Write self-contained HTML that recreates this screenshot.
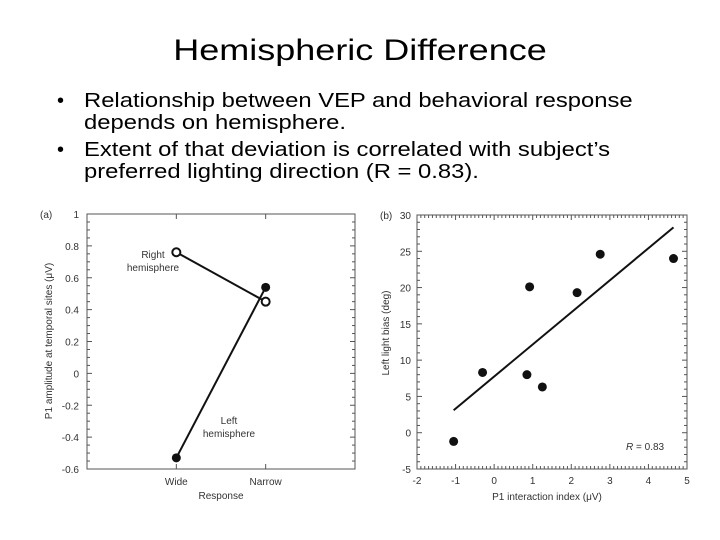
<!DOCTYPE html>
<html><head><meta charset="utf-8"><style>
body{margin:0;background:#fff;}
#page{position:relative;width:720px;height:540px;background:#fff;font-family:"Liberation Sans",Arial,sans-serif;overflow:hidden;}
.title{position:absolute;left:360px;top:0;font-size:30px;line-height:30px;color:#000;white-space:nowrap;transform:translateX(-50%) scaleX(1.2);transform-origin:50% 0;}
.ln{position:absolute;left:84px;font-size:20px;line-height:20px;color:#000;white-space:nowrap;transform:scaleX(1.19);transform-origin:0 0;}
.dot{position:absolute;left:57px;font-size:20px;line-height:20px;}
svg text{font-family:"Liberation Sans",Arial,sans-serif;fill:#333;}
</style></head><body>
<div id="page">
<div class="title" style="top:36px">Hemispheric Difference</div>
<div class="dot" style="top:91px">•</div>
<div class="ln" style="top:91px">Relationship between VEP and behavioral response</div>
<div class="ln" style="top:113px">depends on hemisphere.</div>
<div class="dot" style="top:140px">•</div>
<div class="ln" style="top:140px">Extent of that deviation is correlated with subject’s</div>
<div class="ln" style="top:162px">preferred lighting direction (R = 0.83).</div>
<svg id="chart" width="720" height="540" style="position:absolute;left:0;top:0"></svg>
</div>
<script>
// Panel a data
const aCategories = ["Wide","Narrow"];
const aRight = [0.76, 0.45];
const aLeft = [-0.53, 0.54];
const aYTicks = [1,0.8,0.6,0.4,0.2,0,-0.2,-0.4,-0.6];
// Panel b data
const bX = [-1.05,-0.3,0.85,0.92,1.25,2.15,2.75,4.65];
const bY = [-1.2,8.3,8.0,20.1,6.3,19.3,24.6,24.0];
const bFitX = [-1.05,4.65];
const bFitY = [3.1,28.3];
const bXTicks = [-2,-1,0,1,2,3,4,5];
const bYTicks = [-5,0,5,10,15,20,25,30];

const svg=document.getElementById('chart');
const NS='http://www.w3.org/2000/svg';
function mk(tag,attrs,parent){const e=document.createElementNS(NS,tag);for(const k in attrs)e.setAttribute(k,attrs[k]);(parent||svg).appendChild(e);return e;}

// Panel a scales
const aL=87,aR=355,aT=214,aB=469;
const ay=v=>aB-(v+0.6)/1.6*(aB-aT);
const ax=i=>aL+(i+1)/3*(aR-aL);
let g=mk('g',{});


let r=mk('rect',{x:aL,y:aT,width:aR-aL,height:aB-aT,fill:'none',stroke:'#555','stroke-width':1},g);


for(let v=-0.6;v<=1.0001;v+=0.05){const y=ay(v);const maj=Math.abs(Math.round(v*10)-v*10)<1e-6&&Math.round(v*10)%2===0;const len=maj?5:3;
mk('line',{x1:aL,x2:aL+len,y1:y,y2:y,stroke:'#555'},g);mk('line',{x1:aR,x2:aR-len,y1:y,y2:y,stroke:'#555'},g);}
aYTicks.forEach(v=>{const t=mk('text',{x:aL-8,y:ay(v)+4,'text-anchor':'end','font-size':10},g);t.textContent=String(v);

});
aCategories.forEach((c,i)=>{const t=mk('text',{x:ax(i),y:485,'text-anchor':'middle','font-size':10},g);t.textContent=c;


mk('line',{x1:ax(i),x2:ax(i),y1:aB,y2:aB-5,stroke:'#555'},g);mk('line',{x1:ax(i),x2:ax(i),y1:aT,y2:aT+5,stroke:'#555'},g);});
let t=mk('text',{x:221,y:499,'text-anchor':'middle','font-size':10},g);t.textContent='Response';


t=mk('text',{x:0,y:0,'text-anchor':'middle','font-size':10,transform:'translate(52,341) rotate(-90)'},g);t.textContent='P1 amplitude at temporal sites (μV)';


t=mk('text',{x:40,y:218,'font-size':10},g);t.textContent='(a)';


let l=mk('polyline',{points:aRight.map((v,i)=>ax(i)+','+ay(v)).join(' '),fill:'none',stroke:'#111','stroke-width':2},g);


l=mk('polyline',{points:aLeft.map((v,i)=>ax(i)+','+ay(v)).join(' '),fill:'none',stroke:'#111','stroke-width':2},g);


aRight.forEach((v,i)=>{const c=mk('circle',{cx:ax(i),cy:ay(v),r:4,fill:'#fff',stroke:'#111','stroke-width':2},g);

});
aLeft.forEach((v,i)=>{const c=mk('circle',{cx:ax(i),cy:ay(v),r:4.5,fill:'#111'},g);

});
t=mk('text',{x:153,y:258,'text-anchor':'middle','font-size':10},g);t.textContent='Right';


t=mk('text',{x:153,y:271,'text-anchor':'middle','font-size':10},g);t.textContent='hemisphere';


t=mk('text',{x:229,y:424,'text-anchor':'middle','font-size':10},g);t.textContent='Left';


t=mk('text',{x:229,y:437,'text-anchor':'middle','font-size':10},g);t.textContent='hemisphere';



// Panel b scales
const bL=417,bR=687,bT=215,bB=469;
const bx=v=>bL+(v+2)/7*(bR-bL);
const by=v=>bB-(v+5)/35*(bB-bT);
g=mk('g',{});


r=mk('rect',{x:bL,y:bT,width:bR-bL,height:bB-bT,fill:'none',stroke:'#555','stroke-width':1},g);


for(let k=-20;k<=50;k++){const v=k/10;const x=bx(v);const len=k%10===0?5:3;
mk('line',{x1:x,x2:x,y1:bB,y2:bB-len,stroke:'#555'},g);mk('line',{x1:x,x2:x,y1:bT,y2:bT+len,stroke:'#555'},g);}
for(let v=-5;v<=30;v+=1){const y=by(v);const len=v%5===0?5:3;
mk('line',{x1:bL,x2:bL+len,y1:y,y2:y,stroke:'#555'},g);mk('line',{x1:bR,x2:bR-len,y1:y,y2:y,stroke:'#555'},g);}
bXTicks.forEach(v=>{const t=mk('text',{x:bx(v),y:484,'text-anchor':'middle','font-size':10},g);t.textContent=String(v);

});
bYTicks.forEach(v=>{const t=mk('text',{x:bL-6,y:by(v)+4,'text-anchor':'end','font-size':10},g);t.textContent=String(v);

});
t=mk('text',{x:547,y:500,'text-anchor':'middle','font-size':10},g);t.textContent='P1 interaction index (μV)';


t=mk('text',{x:0,y:0,'text-anchor':'middle','font-size':10,transform:'translate(389,333) rotate(-90)'},g);t.textContent='Left light bias (deg)';


t=mk('text',{x:380,y:219,'font-size':10},g);t.textContent='(b)';


l=mk('line',{x1:bx(bFitX[0]),y1:by(bFitY[0]),x2:bx(bFitX[1]),y2:by(bFitY[1]),stroke:'#111','stroke-width':2},g);


bX.forEach((x,i)=>{const c=mk('circle',{cx:bx(x),cy:by(bY[i]),r:4.5,fill:'#111'},g);

});
t=mk('text',{x:626,y:450,'font-size':10},g);t.innerHTML='<tspan font-style="italic">R</tspan> = 0.83';


</script>
</body></html>
